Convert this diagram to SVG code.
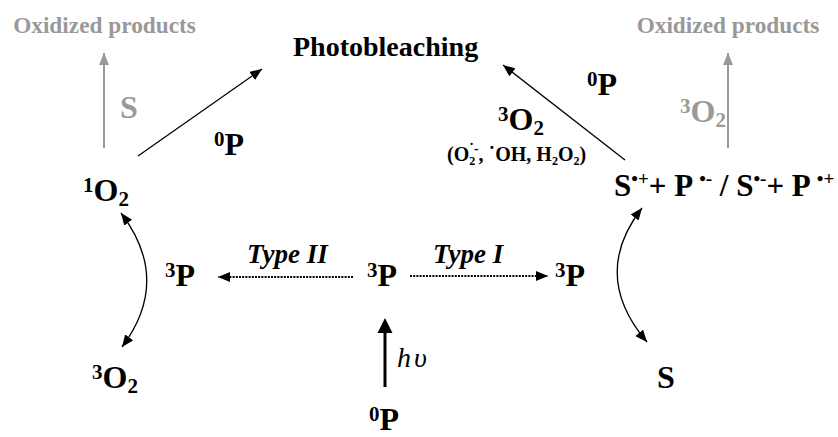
<svg xmlns="http://www.w3.org/2000/svg" width="838" height="437" viewBox="0 0 838 437">
<style>
.t{font-family:"Liberation Serif","Times New Roman",serif;font-weight:bold;font-size:32px;fill:#000}
.g{fill:#999}
.ox{font-size:23.3px}
.ph{font-size:28px}
.ty{font-size:27px;font-style:italic}
.hv{font-size:28px;font-style:italic;font-weight:normal;letter-spacing:3px}
.s{font-size:21px}
.r{font-size:19px}
.ln{stroke:#000;stroke-width:1.3;fill:none}
.lg{stroke:#999;stroke-width:2;fill:none}
.dt{stroke:#000;stroke-width:2;fill:none;stroke-dasharray:2 1.2}
</style>
<defs>
<marker id="ah" viewBox="0 0 12 10" refX="12" refY="5" markerWidth="12" markerHeight="10" markerUnits="userSpaceOnUse" orient="auto-start-reverse"><path d="M0,0 L12,5 L0,10 z" fill="#000"/></marker>
<marker id="ahg" viewBox="0 0 12 10" refX="12" refY="5" markerWidth="12" markerHeight="10" markerUnits="userSpaceOnUse" orient="auto-start-reverse"><path d="M0,0 L12,5 L0,10 z" fill="#999"/></marker>
</defs>

<g id="connectors">
<line class="lg" x1="104" y1="148" x2="104" y2="53" marker-end="url(#ahg)"/>
<line class="lg" x1="728" y1="148" x2="728" y2="53" marker-end="url(#ahg)"/>
<line class="ln" x1="138" y1="156" x2="262" y2="69" marker-end="url(#ah)"/>
<line class="ln" x1="625" y1="160" x2="503" y2="65" marker-end="url(#ah)"/>
<path class="ln" d="M121,213 Q172,280 122,347" marker-start="url(#ah)" marker-end="url(#ah)"/>
<path class="ln" d="M642,208 Q590,275 647,342" marker-start="url(#ah)" marker-end="url(#ah)"/>
<line class="dt" x1="353" y1="277" x2="218" y2="277" marker-end="url(#ah)"/>
<line class="dt" x1="410" y1="276" x2="548" y2="276" marker-end="url(#ah)"/>
<line x1="385" y1="387" x2="385" y2="330" stroke="#000" stroke-width="3"/>
<polygon points="377.5,333 385,318 392.5,333" fill="#000"/>
<text class="t g" x="120" y="118">S</text>
<text class="t g" x="680" y="122"><tspan class="s" dy="-9">3</tspan><tspan dy="9">O</tspan><tspan class="s" dy="5">2</tspan></text>
<text class="t" x="214" y="155"><tspan class="s" dy="-9">0</tspan><tspan dy="9">P</tspan></text>
<text class="t" x="587" y="95"><tspan class="s" dy="-9">0</tspan><tspan dy="9">P</tspan></text>
<text class="t" x="498" y="130"><tspan class="s" dy="-9">3</tspan><tspan dy="9">O</tspan><tspan class="s" dy="5">2</tspan></text>
<text class="t" x="447" y="161" style="font-size:20px">(O<tspan style="font-size:12px" dy="4">2</tspan><tspan style="font-size:14px" dx="-6" dy="-12">˙-</tspan><tspan dy="8">, ˙OH, H</tspan><tspan style="font-size:12px" dy="4">2</tspan><tspan dy="-4">O</tspan><tspan style="font-size:12px" dy="4">2</tspan><tspan dy="-4">)</tspan></text>
<text class="t ty" x="247" y="263">Type II</text>
<text class="t ty" x="433" y="263">Type I</text>
<text class="t hv" x="397" y="367">hυ</text>
</g>

<g id="n-ox-left"><text class="t g ox" x="104.5" y="33" text-anchor="middle">Oxidized products</text></g>
<g id="n-ox-right"><text class="t g ox" x="728" y="33" text-anchor="middle">Oxidized products</text></g>
<g id="n-photo"><text class="t ph" x="293" y="56">Photobleaching</text></g>
<g id="n-1o2"><text class="t" x="83" y="201"><tspan class="s" dy="-9">1</tspan><tspan dy="9">O</tspan><tspan class="s" dy="5">2</tspan></text></g>
<g id="n-radicals"><text class="t" x="614" y="196" style="font-size:31px">S<tspan class="r" dy="-11">•+</tspan><tspan dy="11">+ P </tspan><tspan class="r" dy="-11">•-</tspan><tspan dy="11"> / S</tspan><tspan class="r" dy="-11">•-</tspan><tspan dy="11">+ P </tspan><tspan class="r" dy="-11">•+</tspan></text></g>
<g id="n-3p-left"><text class="t" x="165" y="286"><tspan class="s" dy="-9">3</tspan><tspan dy="9">P</tspan></text></g>
<g id="n-3p-center"><text class="t" x="367" y="286"><tspan class="s" dy="-9">3</tspan><tspan dy="9">P</tspan></text></g>
<g id="n-3p-right"><text class="t" x="555" y="286"><tspan class="s" dy="-9">3</tspan><tspan dy="9">P</tspan></text></g>
<g id="n-3o2-bottom"><text class="t" x="92" y="388"><tspan class="s" dy="-9">3</tspan><tspan dy="9">O</tspan><tspan class="s" dy="5">2</tspan></text></g>
<g id="n-s-bottom"><text class="t" x="657" y="388">S</text></g>
<g id="n-0p-bottom"><text class="t" x="369" y="430"><tspan class="s" dy="-9">0</tspan><tspan dy="9">P</tspan></text></g>
</svg>
